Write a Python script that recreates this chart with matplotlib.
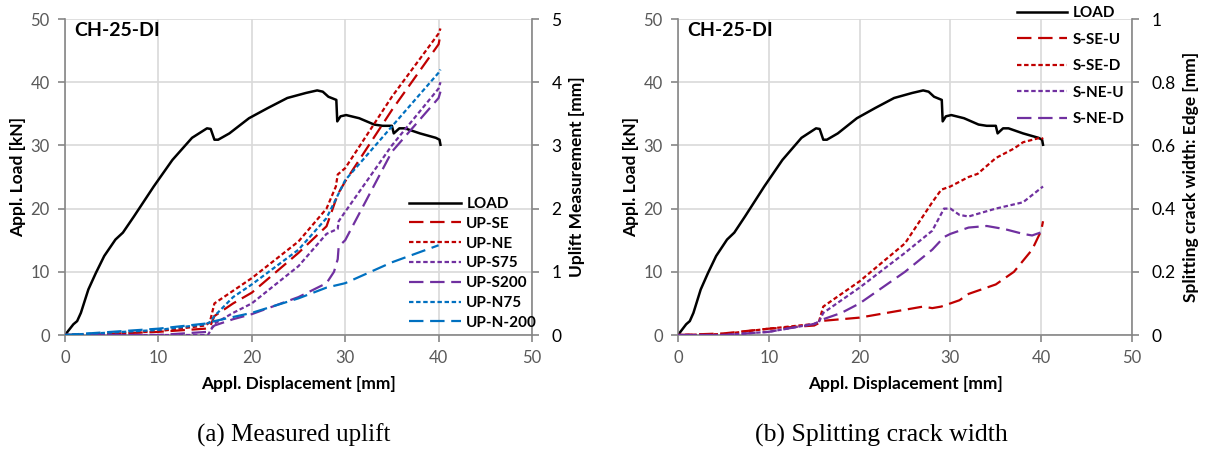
import matplotlib.pyplot as plt

# displacement [mm] and applied load [kN]
load_x = [0, 0.9, 1.3, 1.7, 2.5, 3.3, 4.2, 5.4, 6.2, 7.4, 9.5, 11.5, 13.6, 15.2, 15.6, 16.0,
          16.4, 17.6, 19.7, 21.7, 23.8, 25.8, 27.0, 27.6, 28.2, 29.05, 29.15, 29.5, 30.1, 31.5,
          33.1, 34.0, 35.0, 35.2, 35.8, 36.4, 38.0, 39.7, 40.1, 40.2]
load_y = [0, 1.7, 2.2, 3.5, 7.2, 9.8, 12.5, 15.1, 16.2, 18.8, 23.5, 27.7, 31.2, 32.7, 32.6, 30.9,
          30.9, 31.9, 34.3, 35.9, 37.5, 38.3, 38.7, 38.5, 37.7, 37.2, 33.8, 34.6, 34.8, 34.3,
          33.3, 33.1, 33.1, 31.9, 32.7, 32.7, 31.9, 31.2, 30.9, 30.1]

# (a) uplift [mm]
up_se_x = [0, 5, 10, 15, 15.5, 16, 18, 20, 25, 28, 29, 29.3, 30, 35, 40, 40.2]
up_se_y = [0, 0.02, 0.05, 0.1, 0.12, 0.3, 0.5, 0.67, 1.3, 1.72, 2.14, 2.25, 2.43, 3.56, 4.6, 4.75]
up_ne_x = [0, 5, 10, 15, 15.5, 16, 18, 20, 25, 28, 29, 29.2, 30, 35, 40, 40.2]
up_ne_y = [0, 0.02, 0.06, 0.15, 0.2, 0.5, 0.7, 0.9, 1.48, 2.0, 2.35, 2.54, 2.64, 3.77, 4.77, 4.85]
up_s75_x = [0, 10, 15.3, 15.7, 16, 18, 20, 25, 28, 29.2, 29.3, 30, 35, 40, 40.2]
up_s75_y = [0, 0, 0.0, 0.1, 0.18, 0.35, 0.5, 1.09, 1.6, 1.68, 1.8, 1.95, 3.0, 3.9, 4.0]
up_s200_x = [0, 10, 15.3, 16, 18, 20, 25, 28, 28.8, 29.2, 29.3, 30, 35, 40, 40.2]
up_s200_y = [0, 0, 0.05, 0.15, 0.25, 0.33, 0.6, 0.82, 1.0, 1.2, 1.4, 1.5, 2.9, 3.75, 3.85]
up_n75_x = [0, 5, 10, 15, 15.5, 16, 18, 20, 25, 28, 29, 30, 35, 40, 40.2]
up_n75_y = [0, 0.04, 0.08, 0.17, 0.2, 0.3, 0.6, 0.8, 1.35, 1.85, 2.15, 2.45, 3.3, 4.15, 4.2]
up_n200_x = [0, 5, 10, 15, 16, 20, 25, 28, 30, 35, 40]
up_n200_y = [0, 0.05, 0.1, 0.18, 0.22, 0.35, 0.58, 0.75, 0.82, 1.15, 1.42]

# (b) splitting crack width [mm]
s_se_u_x = [0, 5, 10, 15, 16, 20, 25, 27, 28, 29, 30, 31, 32, 33, 35, 37, 39, 40, 40.2]
s_se_u_y = [0, 0.005, 0.02, 0.03, 0.045, 0.055, 0.08, 0.09, 0.085, 0.09, 0.1, 0.11, 0.13, 0.14,
            0.16, 0.2, 0.27, 0.33, 0.36]
s_se_d_x = [0, 5, 10, 15, 15.5, 16, 20, 25, 28, 29, 30, 32, 33, 35, 37, 38, 40, 40.2]
s_se_d_y = [0, 0.003, 0.02, 0.035, 0.04, 0.09, 0.17, 0.29, 0.42, 0.46, 0.47, 0.5, 0.51, 0.56,
            0.59, 0.61, 0.625, 0.62]
s_ne_u_x = [0, 5, 10, 15, 15.5, 16, 20, 25, 28, 29.3, 30, 31, 32, 35, 38, 40.2]
s_ne_u_y = [0, 0, 0.01, 0.035, 0.04, 0.07, 0.15, 0.26, 0.33, 0.4, 0.4, 0.38, 0.375, 0.4, 0.42, 0.47]
s_ne_d_x = [0, 5, 10, 15, 16, 18, 20, 25, 28, 29.3, 30, 32, 34, 36, 38, 39, 40, 40.2]
s_ne_d_y = [0, 0, 0.01, 0.035, 0.05, 0.07, 0.1, 0.2, 0.27, 0.31, 0.32, 0.34, 0.345, 0.335, 0.32,
            0.315, 0.325, 0.33]

RED = '#C00000'
PURPLE = '#7030A0'
BLUE = '#0070C0'
LONG = (0, (6.5, 3))
SHORT = (0, (2, 1.2))
GRAY_TXT = '#595959'
FONT = 'Lato'

plt.rcParams['font.family'] = FONT

fig = plt.figure(figsize=(12.07, 4.55), dpi=100)


def setup(ax, ax2, right_max, right_step, right_label, right_fmt):
    ax.set_xlim(0, 50)
    ax.set_ylim(0, 50)
    ax.set_xticks(range(0, 51, 10))
    ax.set_yticks(range(0, 51, 10))
    ax.grid(True, color='#D9D9D9', linewidth=1.2)
    ax.set_axisbelow(True)
    ax.spines['top'].set_visible(False)
    ax2.spines['top'].set_visible(False)
    for sp in ['left', 'bottom']:
        ax.spines[sp].set_color('#868686')
        ax.spines[sp].set_linewidth(1.2)
    ax.spines['right'].set_visible(False)
    ax2.spines['left'].set_visible(False)
    ax2.spines['bottom'].set_visible(False)
    ax2.spines['right'].set_color('#868686')
    ax2.spines['right'].set_linewidth(1.2)
    ax.tick_params(axis='both', colors='#868686', labelcolor=GRAY_TXT, labelsize=12,
                   length=5, width=1.2)
    ax.tick_params(axis='x', pad=6)
    ax.tick_params(axis='y', pad=6)
    ax2.set_ylim(0, right_max)
    ticks = [i * right_step for i in range(int(round(right_max / right_step)) + 1)]
    ax2.set_yticks(ticks)
    ax2.set_yticklabels([right_fmt(t) for t in ticks])
    ax2.tick_params(axis='y', colors='#868686', labelcolor='black', labelsize=12.5,
                    length=5, width=1.2, pad=9)
    ax.set_xlabel('Appl. Displacement [mm]', fontsize=12.5, fontweight='bold', labelpad=7)
    ax.set_ylabel('Appl. Load [kN]', fontsize=12.5, fontweight='bold', labelpad=3)
    ax2.set_ylabel(right_label, fontsize=12.5, fontweight='bold', labelpad=5)
    ax.text(0.02, 0.99, 'CH-25-DI', transform=ax.transAxes, fontsize=14,
            fontweight='bold', va='top', ha='left')


def fmt_int(v):
    return '%d' % round(v)


def fmt_dec(v):
    if abs(v) < 1e-9:
        return '0'
    if abs(v - 1) < 1e-9:
        return '1'
    return '%.1f' % v


# (a) measured uplift
ax = fig.add_axes([65 / 1207, 1 - 335 / 455, 467 / 1207, 316 / 455])
ax2 = ax.twinx()
setup(ax, ax2, 5, 1, 'Uplift Measurement [mm]', fmt_int)
ax.plot(load_x, load_y, color='black', lw=1.8, label='LOAD')
ax2.plot(up_se_x, up_se_y, color=RED, lw=1.6, ls=LONG, label='UP-SE')
ax2.plot(up_ne_x, up_ne_y, color=RED, lw=1.6, ls=SHORT, label='UP-NE')
ax2.plot(up_s75_x, up_s75_y, color=PURPLE, lw=1.6, ls=SHORT, label='UP-S75')
ax2.plot(up_s200_x, up_s200_y, color=PURPLE, lw=1.6, ls=LONG, label='UP-S200')
ax2.plot(up_n75_x, up_n75_y, color=BLUE, lw=1.6, ls=SHORT, label='UP-N75')
ax2.plot(up_n200_x, up_n200_y, color=BLUE, lw=1.6, ls=LONG, label='UP-N-200')
h1, l1 = ax.get_legend_handles_labels()
h2, l2 = ax2.get_legend_handles_labels()
ax2.legend(h1 + h2, l1 + l2, loc='upper left', bbox_to_anchor=(409 / 1207, 1 - 197 / 455),
           bbox_transform=fig.transFigure, frameon=False, borderpad=0, borderaxespad=0,
           handlelength=3.4, handletextpad=0.35, labelspacing=0.38,
           prop={'family': FONT, 'weight': 'bold', 'size': 11})

# (b) splitting crack width
bx = fig.add_axes([678 / 1207, 1 - 335 / 455, 454 / 1207, 316 / 455])
bx2 = bx.twinx()
setup(bx, bx2, 1.0, 0.2, 'Splitting crack width: Edge [mm]', fmt_dec)
bx.plot(load_x, load_y, color='black', lw=1.8, label='LOAD')
bx2.plot(s_se_u_x, s_se_u_y, color=RED, lw=1.6, ls=LONG, label='S-SE-U')
bx2.plot(s_se_d_x, s_se_d_y, color=RED, lw=1.6, ls=SHORT, label='S-SE-D')
bx2.plot(s_ne_u_x, s_ne_u_y, color=PURPLE, lw=1.6, ls=SHORT, label='S-NE-U')
bx2.plot(s_ne_d_x, s_ne_d_y, color=PURPLE, lw=1.6, ls=LONG, label='S-NE-D')
h1, l1 = bx.get_legend_handles_labels()
h2, l2 = bx2.get_legend_handles_labels()
bx2.legend(h1 + h2, l1 + l2, loc='upper left', bbox_to_anchor=(1017 / 1207, 1 - 6 / 455),
           bbox_transform=fig.transFigure, frameon=False, borderpad=0, borderaxespad=0,
           handlelength=3.3, handletextpad=0.35, labelspacing=0.82,
           prop={'family': FONT, 'weight': 'bold', 'size': 11})

fig.text(294 / 1207, 1 - 435 / 455, '(a) Measured uplift', family='Liberation Serif',
         fontsize=18, ha='center', va='center')
fig.text(881 / 1207, 1 - 435 / 455, '(b) Splitting crack width', family='Liberation Serif',
         fontsize=18.5, ha='center', va='center')

fig.savefig('out.png', dpi=100)
